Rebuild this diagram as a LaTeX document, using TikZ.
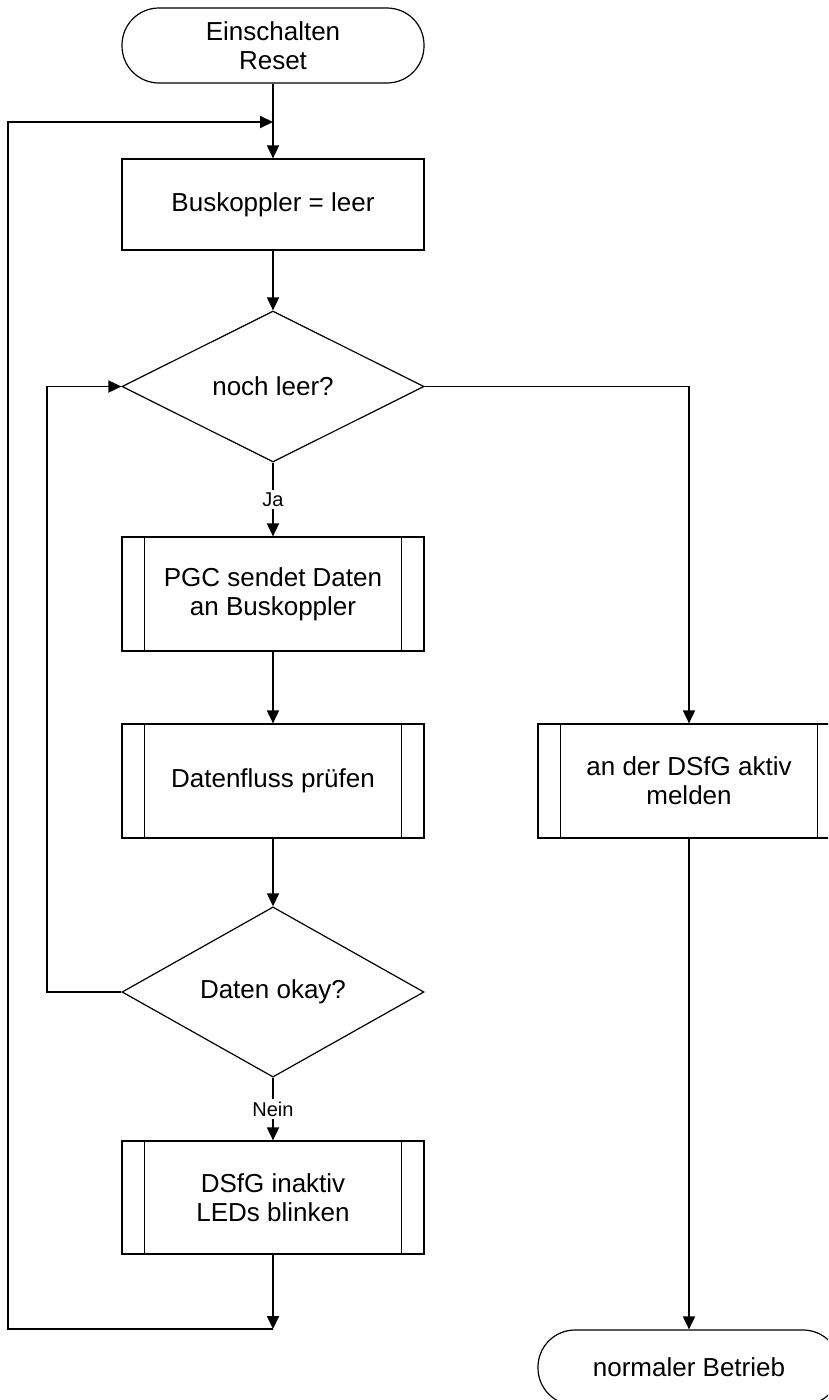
\documentclass[tikz,border=0pt]{standalone}
\usepackage{fontspec}
\setmainfont{Liberation Sans}
\usetikzlibrary{shapes.geometric,arrows.meta}
\begin{document}
\begin{tikzpicture}[x=1pt,y=1pt,
  every node/.style={font=\fontsize{26}{29}\selectfont, align=center, inner sep=0pt},
  shapebox/.style={draw, line width=1.2pt, minimum width=302pt},
  termbox/.style={shapebox, rectangle, rounded corners=37pt, minimum height=75pt},
  procbox/.style={shapebox, rectangle},
  decbox/.style={shapebox, diamond, minimum height=151pt},
  flow/.style={line width=1.8pt, -{Triangle[length=13pt,width=12pt]}},
  plain/.style={line width=1.8pt},
  lbl/.style={font=\fontsize{20}{24}\selectfont, fill=white, inner sep=3pt}
]
\useasboundingbox (0,0) rectangle (828,-1400);
\clip (0,0) rectangle (828,-1400);

% nodes
\node[termbox] (start) at (273,-45.5) {Einschalten\\Reset};
\node[procbox, minimum height=91pt] (bus) at (273,-204.5) {Buskoppler = leer};
\node[decbox] (leer) at (273,-386.5) {noch leer?};
\node[procbox, minimum height=114pt] (pgc) at (273,-594) {PGC sendet Daten\\an Buskoppler};
\node[procbox, minimum height=114pt] (fluss) at (273,-781) {Datenfluss prüfen};
\node[decbox, minimum height=150pt] (okay) at (273,-992) {Daten okay?};
\node[procbox, minimum height=113pt] (inaktiv) at (273,-1197.5) {DSfG inaktiv\\LEDs blinken};
\node[procbox, minimum height=114pt] (aktiv) at (689,-781) {an der DSfG aktiv\\melden};
\node[termbox] (normal) at (689,-1367.5) {normaler Betrieb};

% side bars of the predefined-process boxes
\foreach \n in {pgc,fluss,inaktiv,aktiv}{
  \draw[line width=1.2pt] ([xshift=23pt]\n.north west) -- ([xshift=23pt]\n.south west);
  \draw[line width=1.2pt] ([xshift=-23pt]\n.north east) -- ([xshift=-23pt]\n.south east);
}

% junction points
\coordinate (top) at (273,-122);
\coordinate (bot) at (273,-1329);
\coordinate (oL) at (8,-122);
\coordinate (oB) at (8,-1329);
\coordinate (iT) at (47,-386.5);
\coordinate (iB) at (47,-992);
\coordinate (rT) at (689,-386.5);

% main line
\draw[flow] (start.south) -- (bus.north);
\draw[flow] (bus.south) -- (leer.north);
\draw[flow] (leer.south) -- node[lbl, pos=0.5] {Ja} (pgc.north);
\draw[flow] (pgc.south) -- (fluss.north);
\draw[flow] (fluss.south) -- (okay.north);
\draw[flow] (okay.south) -- node[lbl, pos=0.5] {Nein} (inaktiv.north);
\draw[flow] (inaktiv.south) -- (bot);

% outer loop back to the top
\draw[flow] (bot) -- (oB) -- (oL) -- (top);

% inner loop back to the first decision
\draw[flow] (okay.west) -- (iB) -- (iT) -- (leer.west);

% right branch
\draw[flow] (leer.east) -- (rT) -- (aktiv.north);
\draw[flow] (aktiv.south) -- (normal.north);
\end{tikzpicture}
\end{document}
